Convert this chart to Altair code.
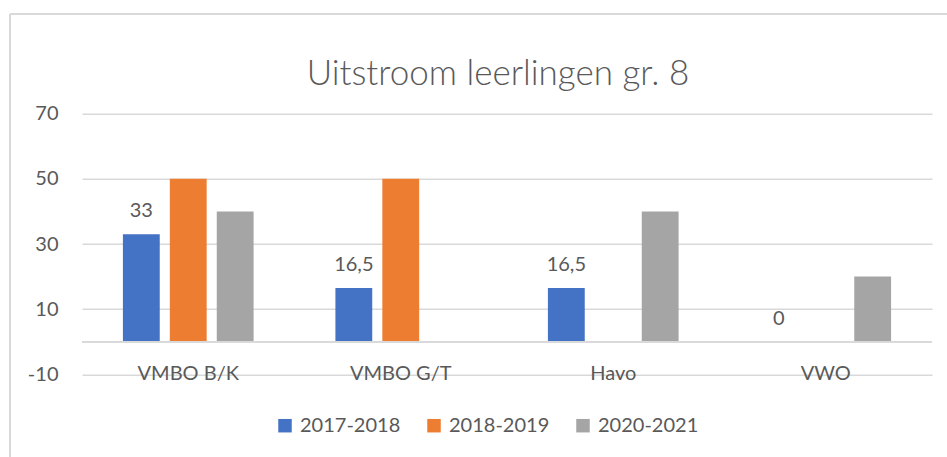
import altair as alt
import pandas as pd

categories = ["VMBO B/K", "VMBO G/T", "Havo", "VWO"]
series = ["2017-2018", "2018-2019", "2020-2021"]
v2017 = [33, 16.5, 16.5, 0]
v2018 = [50, 50, None, None]
v2020 = [40, None, 40, 20]
colors = ["#4472C4", "#ED7D31", "#A5A5A5"]
y_ticks = [-10, 10, 30, 50, 70]
title_text = "Uitstroom leerlingen gr. 8"

rows = []
for s, vals in zip(series, [v2017, v2018, v2020]):
    for c, v in zip(categories, vals):
        if v is None:
            continue
        rows.append({"cat": c, "series": s, "value": v,
                     "label": f"{v:g}".replace(".", ",")})
df = pd.DataFrame(rows)

TXT = "#595959"
GRID = "#D9D9D9"
FONT = "Lato"

x_axis = alt.Axis(labelAngle=0, domain=False, ticks=False, tickSize=0,
                  grid=False, labelPadding=-1, labelBaseline="middle",
                  labelFontSize=20, labelColor=TXT, labelFont=FONT)
y_axis = alt.Axis(values=y_ticks, domain=False, ticks=False, tickSize=0,
                  labelPadding=24, gridColor=GRID, gridWidth=1.5,
                  labelExpr="toString(datum.value)",
                  labelFontSize=20, labelColor=TXT, labelFont=FONT)
x_scale = alt.Scale(paddingInner=0.385, paddingOuter=0.1925)
y_scale = alt.Scale(domain=[-10, 70], nice=False, zero=False)

x_enc = alt.X("cat:N", sort=categories, title=None, scale=x_scale, axis=x_axis)
xo_enc = alt.XOffset("series:N", sort=series,
                     scale=alt.Scale(paddingInner=0.215, paddingOuter=0))
y_enc = alt.Y("value:Q", stack=None, title=None, scale=y_scale, axis=y_axis)

base = alt.Chart(df)

bars = base.mark_bar().encode(
    x=x_enc, xOffset=xo_enc, y=y_enc,
    color=alt.Color("series:N", sort=series,
                    scale=alt.Scale(domain=series, range=colors),
                    legend=alt.Legend(title=None, orient="none", direction="horizontal",
                                      legendX=193, legendY=302,
                                      symbolType="square", symbolSize=182,
                                      symbolStrokeWidth=0, labelOffset=5,
                                      columnPadding=23, labelFontSize=20,
                                      labelColor=TXT, labelFont=FONT)),
)

zero_line = alt.Chart(df).mark_rule(color=GRID, strokeWidth=1.5).encode(
    y=alt.datum(0, scale=y_scale, axis=y_axis, title=None))

labels = base.transform_filter(alt.datum.series == "2017-2018").mark_text(
    baseline="alphabetic", dy=-17, fontSize=20, color=TXT, font=FONT
).encode(x=x_enc, xOffset=xo_enc, y=y_enc, text="label:N")

title = alt.Chart(pd.DataFrame({"t": [title_text]})).mark_text(
    fontSize=35, font=FONT, fontWeight=300, color=TXT, align="center",
    baseline="alphabetic"
).encode(x=alt.value(416), y=alt.value(-28.7), text="t:N")

border_top = alt.Chart(df).mark_rule(color=GRID, strokeWidth=1.5).encode(
    x=alt.value(-72), x2=alt.value(870), y=alt.value(-99.7))
border_left = alt.Chart(df).mark_rule(color=GRID, strokeWidth=1.5).encode(
    x=alt.value(-72), y=alt.value(-99.7), y2=alt.value(350))

chart = alt.layer(bars, zero_line, labels, title, border_top, border_left).properties(
    width=850, height=260.6,
    background="white",
    autosize=alt.AutoSizeParams(type="none"),
    padding={"left": 82, "top": 113.7, "right": 15, "bottom": 82.7},
).configure_view(strokeWidth=0, stroke=None)

chart.save("out.html", embed_options={"renderer": "svg", "actions": False})
